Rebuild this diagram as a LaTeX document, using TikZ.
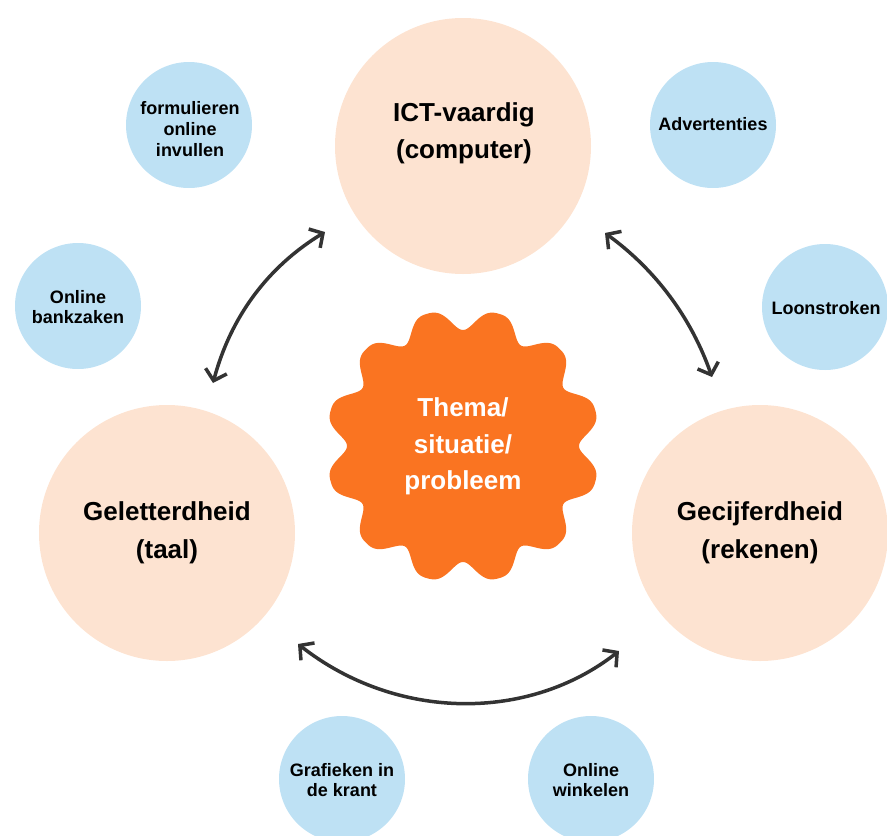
\documentclass[tikz,border=0pt]{standalone}
\usepackage{fontspec}
\setmainfont{Liberation Sans}
\usetikzlibrary{arrows.meta}
\definecolor{peach}{HTML}{FDE3D1}
\definecolor{sky}{HTML}{BEE1F4}
\definecolor{gearorange}{HTML}{FA7421}
\definecolor{arrowgray}{HTML}{333333}
\begin{document}
\begin{tikzpicture}[x=1pt,y=-1pt,
  bigcirc/.style={circle, fill=peach, minimum size=256pt, inner sep=0pt},
  smallcirc/.style={circle, fill=sky, minimum size=126pt, inner sep=0pt},
  bigtext/.style={font=\bfseries\fontsize{26}{37.5}\selectfont, align=center, inner sep=0pt, text=black},
  smalltext/.style={font=\bfseries\fontsize{18}{20.7}\selectfont, align=center, inner sep=0pt, text=black},
  geartext/.style={font=\bfseries\fontsize{26}{36.5}\selectfont, align=center, inner sep=0pt, text=white},
  barb/.tip={Straight Barb[length=10pt,width=22pt]},
  link/.style={draw=arrowgray, line width=3.5pt, barb-barb}
]
\useasboundingbox (0,0) rectangle (887,836);

% big circles
\node[bigcirc] (ict) at (463,146) {};
\node[bigcirc] (taal) at (167,533) {};
\node[bigcirc] (reken) at (760,533) {};

% small circles
\node[smallcirc] (form) at (189,125) {};
\node[smallcirc] (adv) at (713,125) {};
\node[smallcirc] (bank) at (78,306) {};
\node[smallcirc] (loon) at (825,307) {};
\node[smallcirc] (graf) at (342,779) {};
\node[smallcirc] (wink) at (591,779) {};

% gear
\fill[gearorange, shift={(463,446)}]
  plot[domain=0:360, samples=721] (\x:{137-21*((1+cos(12*\x))/2)^1.5}) -- cycle;

% texts
\node[bigtext] (ictt) at (464,133.5) {ICT-vaardig\\(computer)};
\node[bigtext] (taalt) at (167,533) {Geletterdheid\\(taal)};
\node[bigtext] (rekent) at (760,533) {Gecijferdheid\\(rekenen)};
\node[geartext] (theme) at (463,446.5) {Thema/\\situatie/\\probleem};

\node[smalltext] (formt) at (190,129) {formulieren\\online\\invullen};
\node[smalltext] (advt) at (713,124.5) {Advertenties};
\node[smalltext] (bankt) at (78,307) {Online\\bankzaken};
\node[smalltext] (loont) at (826,308) {Loonstroken};
\node[smalltext] (graft) at (342,780) {Grafieken in\\de krant};
\node[smalltext] (winkt) at (591,780) {Online\\winkelen};

% arrow end points
\coordinate (l1) at (325,232);
\coordinate (l2) at (213,383);
\coordinate (r1) at (605,233);
\coordinate (r2) at (712,377);
\coordinate (b1) at (298,644);
\coordinate (b2) at (619,651);

\draw[link] (l1) .. controls (267.7,266.9) and (230.7,316.9) .. (l2);
\draw[link] (r1) .. controls (655.7,269.9) and (691.3,317.9) .. (r2);
\draw[link] (b1) .. controls (397,721.5) and (529,721.5) .. (b2);
\end{tikzpicture}
\end{document}
